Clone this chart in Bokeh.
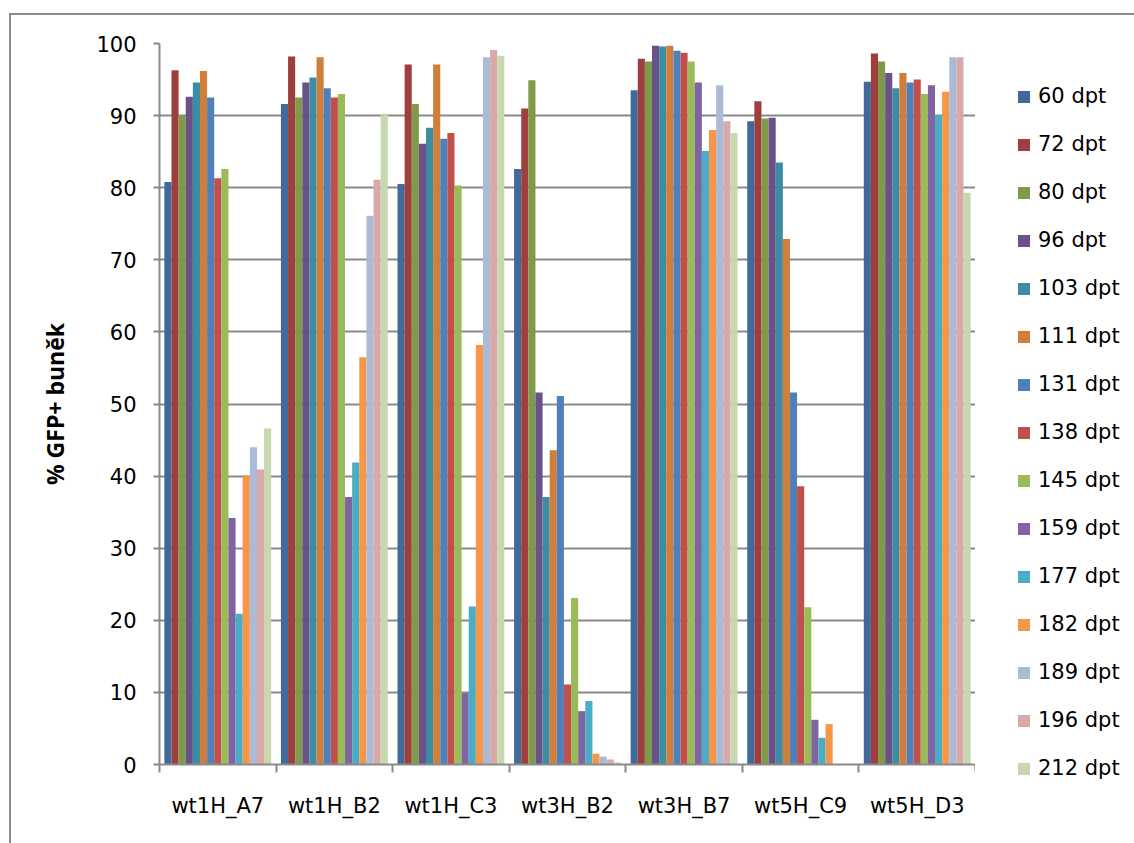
from bokeh.plotting import figure
from bokeh.layouts import row
from bokeh.models import Range1d, FixedTicker, Legend, LegendItem, ColumnDataSource
from bokeh.embed import file_html
from bokeh.resources import INLINE

NAN = float("nan")

# Cell lines on the x axis
groups = ["wt1H_A7", "wt1H_B2", "wt1H_C3", "wt3H_B2", "wt3H_B7", "wt5H_C9", "wt5H_D3"]

# Time points (days post transduction)
series = ["60 dpt", "72 dpt", "80 dpt", "96 dpt", "103 dpt", "111 dpt", "131 dpt",
          "138 dpt", "145 dpt", "159 dpt", "177 dpt", "182 dpt", "189 dpt",
          "196 dpt", "212 dpt"]

# % GFP+ cells, one list per time point, in the order of `groups`
dpt_60 = [80.8, 91.6, 80.5, 82.6, 93.5, 89.2, 94.7]
dpt_72 = [96.3, 98.2, 97.1, 91.0, 97.9, 92.0, 98.6]
dpt_80 = [90.1, 92.5, 91.6, 94.9, 97.5, 89.6, 97.5]
dpt_96 = [92.6, 94.6, 86.1, 51.6, 99.7, 89.7, 95.9]
dpt_103 = [94.6, 95.3, 88.3, 37.1, 99.6, 83.5, 93.8]
dpt_111 = [96.2, 98.1, 97.1, 43.6, 99.7, 72.9, 95.9]
dpt_131 = [92.5, 93.8, 86.8, 51.1, 99.0, 51.6, 94.6]
dpt_138 = [81.3, 92.5, 87.6, 11.1, 98.7, 38.6, 95.0]
dpt_145 = [82.6, 93.0, 80.3, 23.1, 97.5, 21.8, 93.0]
dpt_159 = [34.2, 37.1, 9.9, 7.4, 94.6, 6.2, 94.2]
dpt_177 = [20.9, 41.9, 21.9, 8.8, 85.1, 3.7, 90.1]
dpt_182 = [40.1, 56.5, 58.2, 1.5, 88.0, 5.6, 93.3]
dpt_189 = [44.0, 76.1, 98.1, 1.1, 94.2, NAN, 98.1]
dpt_196 = [40.9, 81.1, 99.1, 0.7, 89.2, NAN, 98.1]
dpt_212 = [46.6, 90.1, 98.3, 0.3, 87.6, NAN, 79.3]

values = [dpt_60, dpt_72, dpt_80, dpt_96, dpt_103, dpt_111, dpt_131, dpt_138,
          dpt_145, dpt_159, dpt_177, dpt_182, dpt_189, dpt_196, dpt_212]

colors = ["#41699B", "#9E3F3D", "#7F9A48", "#6A5288", "#3C8CA3", "#D07E3A",
          "#4E80BC", "#C1504D", "#9BBB59", "#8064A2", "#4BACC6", "#F79646",
          "#AABAD7", "#D9A9A9", "#C7D7AE"]

y_ticks = [0, 10, 20, 30, 40, 50, 60, 70, 80, 90, 100]

GRAY = "#8a8a8a"
FONT = "DejaVu Sans"

# main bar chart
p = figure(width=964, height=828, output_backend="svg", toolbar_location=None,
           x_range=Range1d(0, len(groups)), y_range=Range1d(0, 100),
           min_border_left=148, min_border_top=28, min_border_right=0,
           min_border_bottom=79, outline_line_color=None,
           background_fill_color="white", border_fill_color="white")

# legend panel on the right (its ranges keep the key renderers off-screen)
pl = figure(width=159, height=828, output_backend="svg", toolbar_location=None,
            x_range=Range1d(1000, 1001), y_range=Range1d(1000, 1001),
            x_axis_type=None, y_axis_type=None,
            min_border_left=0, min_border_top=0, min_border_right=0,
            min_border_bottom=0, outline_line_color=None,
            background_fill_color="white", border_fill_color="white")
pl.frame_align = False
pl.xgrid.visible = False
pl.ygrid.visible = False

n = len(series)
bar_w = 0.0611
items = []
for j, (name, vals, col) in enumerate(zip(series, values, colors)):
    xs = [i + 0.5 + (j - (n - 1) / 2) * bar_w for i in range(len(groups))]
    src = ColumnDataSource(dict(x=xs, top=vals))
    p.vbar(x="x", top="top", width=bar_w, bottom=0, source=src,
           fill_color=col, line_color=None)
    key = pl.vbar(x="x", top="top", width=bar_w, bottom=0, source=src,
                  fill_color=col, line_color=None)
    items.append(LegendItem(label=name, renderers=[key], index=0))

# horizontal grid
p.xgrid.grid_line_color = None
p.ygrid.ticker = FixedTicker(ticks=y_ticks)
p.ygrid.grid_line_color = GRAY
p.ygrid.grid_line_width = 2

# y axis
ya = p.yaxis[0]
ya.ticker = FixedTicker(ticks=y_ticks)
ya.axis_line_color = GRAY
ya.axis_line_width = 2
ya.major_tick_line_color = GRAY
ya.major_tick_line_width = 2
ya.major_tick_out = 6
ya.major_tick_in = 0
ya.minor_tick_line_color = None
ya.major_label_text_font = FONT
ya.major_label_text_font_size = "21px"
ya.major_label_text_color = "black"
ya.major_label_standoff = 17
ya.axis_label = "% GFP+ buněk"
ya.axis_label_text_font = "Open Sans"
ya.axis_label_text_font_style = "bold"
ya.axis_label_text_font_size = "23px"
ya.axis_label_text_color = "black"
ya.axis_label_standoff = 22

# x axis: labels at group centres, tick marks between groups
xa = p.xaxis[0]
xa.ticker = FixedTicker(ticks=[i + 0.5 for i in range(len(groups))],
                        minor_ticks=list(range(len(groups) + 1)))
xa.major_label_overrides = {i + 0.5: g for i, g in enumerate(groups)}
xa.axis_line_color = GRAY
xa.axis_line_width = 2
xa.major_tick_line_color = None
xa.major_tick_out = 0
xa.major_tick_in = 0
xa.minor_tick_line_color = GRAY
xa.minor_tick_line_width = 2
xa.minor_tick_out = 8
xa.minor_tick_in = 0
xa.major_label_text_font = FONT
xa.major_label_text_font_size = "21px"
xa.major_label_text_color = "black"
xa.major_label_standoff = 21

legend = Legend(items=items, location=(41, 63), orientation="vertical",
                glyph_width=15, glyph_height=15, label_height=21,
                label_standoff=7, spacing=24, padding=0, margin=0,
                border_line_color=None, background_fill_alpha=0,
                label_text_font=FONT, label_text_font_size="21px",
                label_text_color="black")
pl.add_layout(legend, "center")

layout = row(p, pl, spacing=0)
layout.margin = (13, 0, 0, 9)
layout.styles = {"border-left": "2px solid #8c8c8c", "border-top": "2px solid #8c8c8c"}

open("out.html", "w").write(file_html(layout, INLINE))
